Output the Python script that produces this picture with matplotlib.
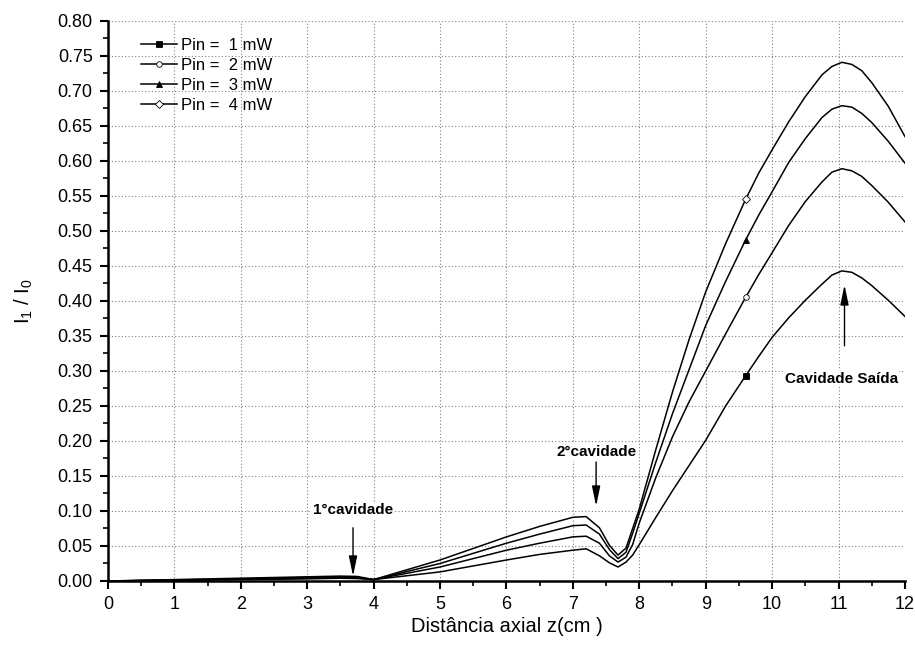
import matplotlib
matplotlib.use('Agg')
import matplotlib.pyplot as plt
from matplotlib.lines import Line2D
from matplotlib.ticker import MultipleLocator, FormatStrFormatter

plt.rcParams['font.family'] = ['Liberation Sans', 'DejaVu Sans']
plt.rcParams['mathtext.default'] = 'regular'

# ------------------------------------------------------------------
# Values
z = [0, 1, 2, 3, 3.5, 3.75, 4, 5, 6, 6.5, 7, 7.2, 7.4, 7.55, 7.68, 7.8, 7.9,
     8, 8.25, 8.5, 8.75, 9, 9.3, 9.6, 9.8, 10, 10.25, 10.5, 10.75, 10.9,
     11.05, 11.2, 11.35, 11.5, 11.75, 12]

pin1 = [0, 0.001, 0.002, 0.003, 0.004, 0.0035, 0.002, 0.013, 0.030, 0.038, 0.044,
        0.046, 0.036, 0.026, 0.020, 0.027, 0.037,
        0.052, 0.091, 0.129, 0.165, 0.201, 0.250, 0.293, 0.321, 0.348, 0.376,
        0.401, 0.424, 0.437, 0.443, 0.441, 0.433, 0.422, 0.401, 0.378]
pin2 = [0, 0.0012, 0.0025, 0.004, 0.005, 0.0045, 0.002, 0.020, 0.044, 0.054, 0.063,
        0.064, 0.054, 0.036, 0.027, 0.034, 0.052,
        0.083, 0.148, 0.206, 0.256, 0.300, 0.353, 0.405, 0.438, 0.469, 0.508,
        0.542, 0.570, 0.584, 0.589, 0.586, 0.578, 0.565, 0.541, 0.513]
pin3 = [0, 0.0015, 0.003, 0.005, 0.006, 0.0055, 0.002, 0.025, 0.054, 0.067, 0.079,
        0.080, 0.067, 0.045, 0.032, 0.041, 0.068,
        0.097, 0.170, 0.239, 0.302, 0.365, 0.428, 0.487, 0.523, 0.556, 0.598,
        0.632, 0.662, 0.674, 0.679, 0.677, 0.668, 0.655, 0.628, 0.597]
pin4 = [0, 0.002, 0.004, 0.006, 0.007, 0.0065, 0.002, 0.030, 0.063, 0.078, 0.091,
        0.092, 0.076, 0.051, 0.037, 0.047, 0.075,
        0.103, 0.188, 0.270, 0.345, 0.413, 0.482, 0.545, 0.583, 0.616, 0.656,
        0.692, 0.723, 0.735, 0.741, 0.738, 0.729, 0.712, 0.678, 0.635]

labels = ['Pin =  1 mW', 'Pin =  2 mW', 'Pin =  3 mW', 'Pin =  4 mW']
marker_z = 9.6
# ------------------------------------------------------------------

fig = plt.figure(figsize=(9.15, 6.48), dpi=100)
ax = fig.add_axes([0.118, 0.1034, 0.871, 0.8642])

series = [pin1, pin2, pin3, pin4]
markers = ['s', 'o', '^', 'D']
faces = ['k', 'white', 'k', 'white']
sizes = [4, 4, 5, 4]
mi = z.index(marker_z)

handles = []
for ys, m, fc, ms in zip(series, markers, faces, sizes):
    ax.plot(z, ys, '-k', lw=1.1, zorder=3)
    ax.plot([z[mi]], [ys[mi]], linestyle='none', marker=m, ms=ms,
            markerfacecolor=fc, markeredgecolor='k', markeredgewidth=0.6, zorder=4)
    handles.append(Line2D([], [], color='k', lw=1.1, marker=m, ms=ms,
                          markerfacecolor=fc, markeredgecolor='k', markeredgewidth=0.6))

ax.legend(handles, labels, loc='upper left', bbox_to_anchor=(0.022, 0.997),
          frameon=False, fontsize=12, handlelength=2.2, handletextpad=0.25,
          labelspacing=0.3)

ax.set_xlim(0, 12)
ax.set_ylim(0, 0.80)
ax.xaxis.set_major_locator(MultipleLocator(1))
ax.xaxis.set_minor_locator(MultipleLocator(0.5))
ax.yaxis.set_major_locator(MultipleLocator(0.05))
ax.yaxis.set_minor_locator(MultipleLocator(0.025))
ax.yaxis.set_major_formatter(FormatStrFormatter('%.2f'))

ax.grid(True, which='major', linestyle=(0, (1, 2)), color='#808080', lw=0.8, zorder=0)
ax.set_axisbelow(True)
for s in ['top', 'right']:
    ax.spines[s].set_visible(False)
for s in ['left', 'bottom']:
    ax.spines[s].set_linewidth(1.8)

ax.tick_params(which='major', direction='out', length=6, width=1.5, labelsize=13, pad=5)
ax.tick_params(which='minor', direction='out', length=3.5, width=1.2)

ax.set_xlabel('Distância axial z(cm )', fontsize=14.5, labelpad=3)
ax.set_ylabel('I$_1$ / I$_0$', fontsize=14.5, labelpad=16)

bbox = dict(facecolor='white', edgecolor='none', pad=1)
arrow = dict(arrowstyle='-|>,head_length=1.2,head_width=0.25', color='k', lw=1.0,
             shrinkA=0, shrinkB=0)

ax.text(3.69, 0.101, '1°cavidade', ha='center', va='center', fontsize=11,
        fontweight='bold', bbox=bbox, zorder=5)
ax.annotate('', xy=(3.69, 0.007), xytext=(3.69, 0.076), arrowprops=arrow, zorder=5)

ax.text(7.35, 0.184, '2°cavidade', ha='center', va='center', fontsize=11,
        fontweight='bold', bbox=bbox, zorder=5)
ax.annotate('', xy=(7.35, 0.107), xytext=(7.35, 0.170), arrowprops=arrow, zorder=5)

ax.text(11.04, 0.289, 'Cavidade Saída', ha='center', va='center', fontsize=11,
        fontweight='bold', bbox=bbox, zorder=5)
ax.annotate('', xy=(11.09, 0.423), xytext=(11.09, 0.336), arrowprops=arrow, zorder=5)

fig.savefig('out.png', dpi=100)
